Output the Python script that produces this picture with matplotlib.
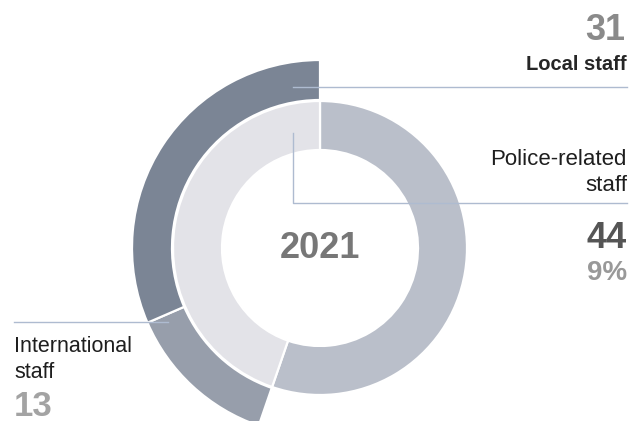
import matplotlib
matplotlib.use("Agg")
import matplotlib.pyplot as plt

# staff counts for 2021
year = "2021"
outer_labels = ["International staff", "Local staff"]
outer_values = [13, 31]
police_total = 44
police_share = "9%"
# rest of the inner ring, estimated from the arc (~199 of 360 degrees)
other_staff = 54.4

inner_values = [other_staff, police_total]
inner_colors = ["#babfca", "#e3e3e8"]
outer_colors = ["#979eab", "#7b8595"]
line_color = "#aebbd0"
FONT = "Liberation Sans"

fig = plt.figure(figsize=(6.4, 4.21), dpi=100)
ax = fig.add_axes([0, 0, 1, 1])

cx, cy = 320, 173  # center in pixel coords (y measured from bottom)

inner, _ = ax.pie(inner_values, colors=inner_colors, startangle=90,
                  counterclock=False, radius=147, center=(cx, cy),
                  wedgeprops=dict(width=49, edgecolor="white", linewidth=1.6))
outer, _ = ax.pie([other_staff] + outer_values,
                  colors=["white"] + outer_colors, startangle=90,
                  counterclock=False, radius=188, center=(cx, cy),
                  wedgeprops=dict(width=40, edgecolor="white", linewidth=1.6))
outer[0].set_visible(False)

ax.set_xlim(0, 640)
ax.set_ylim(0, 421)
ax.set_aspect("auto")
ax.axis("off")

def Y(y):
    return 421 - y

# leader lines
ax.plot([293, 627], [Y(87), Y(87)], color=line_color, lw=1)
ax.plot([293, 293, 627], [Y(133), Y(203), Y(203)], color=line_color, lw=1)
ax.plot([14, 168], [Y(322), Y(322)], color=line_color, lw=1)

# center label
ax.text(cx, cy, year, fontsize=26, fontweight="bold", color="#777777",
        ha="center", va="center", family=FONT)

# local staff
ax.text(625, Y(40), str(outer_values[1]), fontsize=26, fontweight="bold",
        color="#8a8a8a", ha="right", va="baseline", family=FONT)
ax.text(627, Y(70), outer_labels[1], fontsize=14.5, fontweight="bold",
        color="#262626", ha="right", va="baseline", family=FONT)

# police-related staff
ax.text(627, Y(165), "Police-related", fontsize=16, color="#1e1e1e",
        ha="right", va="baseline", family=FONT)
ax.text(627, Y(191), "staff", fontsize=16, color="#1e1e1e",
        ha="right", va="baseline", family=FONT)
ax.text(627, Y(248), str(police_total), fontsize=26, fontweight="bold",
        color="#555555", ha="right", va="baseline", family=FONT)
ax.text(627, Y(280), police_share, fontsize=20, fontweight="bold",
        color="#999999", ha="right", va="baseline", family=FONT)

# international staff
ax.text(14, Y(352), "International", fontsize=15.5, color="#1e1e1e",
        ha="left", va="baseline", family=FONT)
ax.text(14, Y(378), "staff", fontsize=15.5, color="#1e1e1e",
        ha="left", va="baseline", family=FONT)
ax.text(14, Y(416), str(outer_values[0]), fontsize=25, fontweight="bold",
        color="#a3a3a3", ha="left", va="baseline", family=FONT)

fig.savefig("out.png", dpi=100, facecolor="white")
